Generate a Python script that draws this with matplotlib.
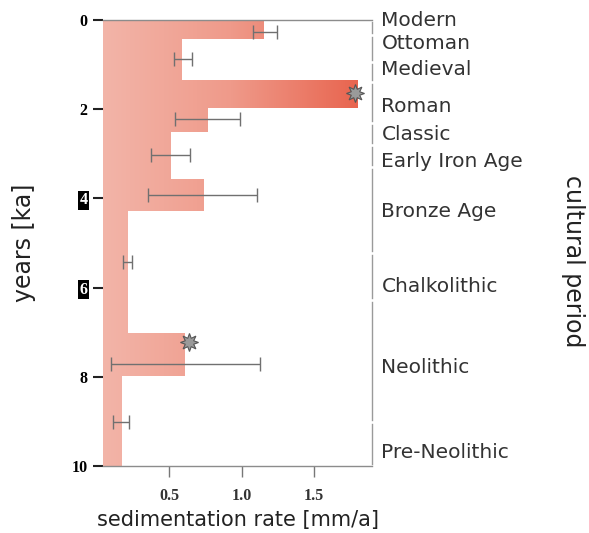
import numpy as np
import matplotlib.pyplot as plt
from matplotlib.colors import LinearSegmentedColormap

# =========================
# DATA
# =========================
# step boundaries (ka) and sedimentation rate (mm/a) for each interval
age_edges = [0.0, 0.43, 1.35, 1.98, 2.52, 3.57, 4.29, 7.01, 7.98, 10.0]
rates     = [1.155, 0.59, 1.80, 0.77, 0.51, 0.74, 0.217, 0.61, 0.176]

# error bars (ka position, lower, upper)
err_age   = [0.27, 0.88, 2.22, 3.03, 3.93, 5.42, 7.71, 9.01]
err_lo    = [1.08, 0.535, 0.54, 0.375, 0.355, 0.183, 0.10, 0.114]
err_hi    = [1.245, 0.66, 0.99, 0.645, 1.105, 0.245, 1.13, 0.224]

# star markers
star_rate = [1.78, 0.64]
star_age  = [1.64, 7.21]

# cultural periods
periods      = ["Modern", "Ottoman", "Medieval", "Roman", "Classic",
                "Early Iron Age", "Bronze Age", "Chalkolithic",
                "Neolithic", "Pre-Neolithic"]
period_age   = [0.02, 0.52, 1.12, 1.93, 2.56, 3.17, 4.29, 5.98, 7.8, 9.7]
period_gaps  = [0.34, 0.94, 1.39, 2.31, 2.8, 3.3, 5.22, 6.28, 9.01]

y_ticks = [0, 2, 4, 6, 8, 10]
x_ticks = [0.5, 1.0, 1.5]
x_tick_labels = ["0.5", "1.0", "1.5"]

XMIN, XMAX = 0.045, 1.90

# =========================
# FIGURE
# =========================
fig = plt.figure(figsize=(5.89, 5.33), dpi=100)
ax = fig.add_axes([0.175, 0.1257, 0.4567, 0.8368])

# step bars with horizontal gradient
poly = ax.fill_betweenx(age_edges, 0, rates + [rates[-1]], step="post",
                        facecolor="none", edgecolor="none")
cmap = LinearSegmentedColormap.from_list("sed", ["#f3b6aa", "#ef9a8a", "#e8624c"])
grad = np.linspace(0, 1, 256).reshape(1, -1)
img = ax.imshow(grad, cmap=cmap, extent=(0, 1.85, 10, 0), aspect="auto",
                zorder=1)
img.set_clip_path(poly.get_paths()[0], transform=ax.transData)
ax.set_xlim(XMIN, XMAX)
ax.set_ylim(10, 0)

# error bars
lo = np.array(err_lo)
hi = np.array(err_hi)
mid = (lo + hi) / 2
ax.errorbar(mid, err_age, xerr=[mid - lo, hi - mid], fmt="none",
            ecolor="#707070", elinewidth=1.0, capsize=5, capthick=1.0, zorder=3)

# stars
ax.plot(star_rate, star_age, linestyle="none", marker=(8, 1, 0), markersize=13,
        markerfacecolor="#9a9a9a", markeredgecolor="#555555",
        markeredgewidth=0.8, zorder=4)

# frame
ax.spines["left"].set_visible(False)
ax.spines["right"].set_visible(False)
for s in ["top", "bottom"]:
    ax.spines[s].set_color("#8c8c8c")
    ax.spines[s].set_linewidth(1.0)

# right bracket split at period boundaries
bounds = [0.0] + period_gaps + [10.0]
for a, b in zip(bounds[:-1], bounds[1:]):
    ax.plot([XMAX, XMAX], [a + 0.04, b - 0.04], color="#9a9a9a", lw=1.0,
            clip_on=False, zorder=2)

# ticks
ax.set_yticks(y_ticks)
ax.set_yticklabels([str(t) for t in y_ticks], fontfamily="Liberation Serif",
                   fontweight="bold", fontsize=11.5)
ax.tick_params(axis="y", length=7, width=1.5, color="#222222", pad=4)
for lab in ax.get_yticklabels():
    if lab.get_text() in ("4", "6"):
        lab.set_color("white")
        lab.set_bbox(dict(facecolor="black", edgecolor="none", pad=1))

ax.set_xticks(x_ticks)
ax.set_xticklabels(x_tick_labels, fontfamily="Liberation Serif",
                   fontweight="bold", fontsize=11.5, color="#333333")
ax.tick_params(axis="x", length=8, width=1.0, color="#777777", pad=8)

# period labels
for name, a in zip(periods, period_age):
    ax.text(XMAX + 0.065, a, name, fontsize=14.5, color="#333333",
            ha="left", va="center", clip_on=False)

# axis labels
fig.text(0.040, 0.544, "years [ka]", rotation=90, fontsize=17,
         ha="center", va="center", color="#222222")
fig.text(0.404, 0.025, "sedimentation rate [mm/a]", fontsize=15,
         ha="center", va="center", color="#222222")
fig.text(0.972, 0.51, "cultural period", rotation=270, fontsize=17,
         ha="center", va="center", color="#222222")

fig.savefig("out.png", dpi=100)
